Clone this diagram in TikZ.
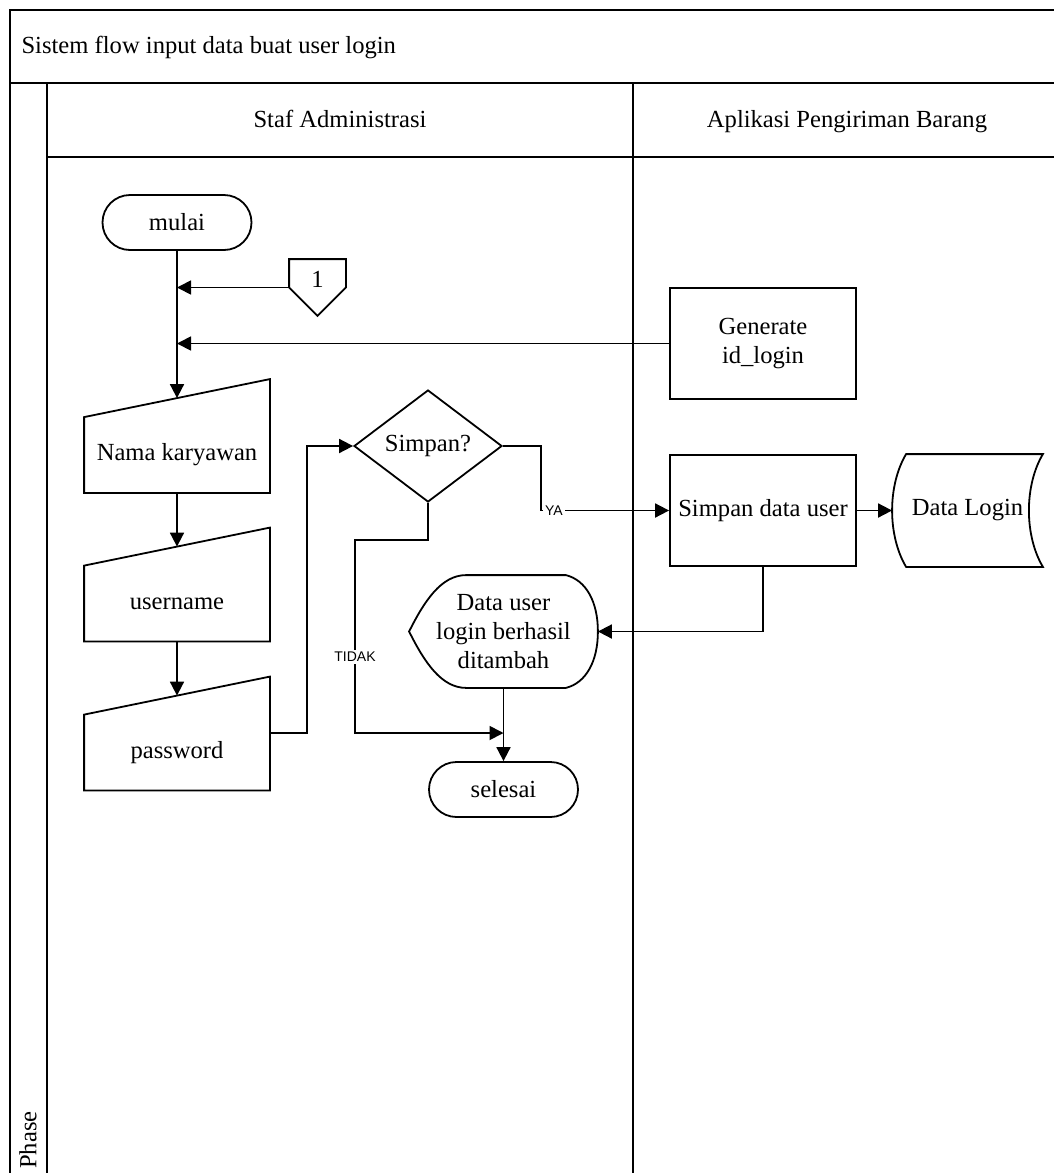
\documentclass[tikz,border=0pt]{standalone}
\usepackage{fontspec}
\setmainfont{Liberation Serif}
\newfontfamily\lblfont{Liberation Sans}
\usetikzlibrary{arrows.meta,calc,shapes.geometric,shapes.misc}

\begin{document}
\begin{tikzpicture}[x=0.5pt,y=-0.5pt,line width=0.9pt,
  font=\fontsize{12.3}{14.5}\selectfont,
  flow/.style={-{Triangle[length=7pt,width=7pt]}},
  term/.style={draw,rounded rectangle,minimum width=74.5pt,minimum height=27.5pt,inner sep=0pt},
  proc/.style={draw,minimum width=93pt,minimum height=55.5pt,align=center,inner sep=0pt},
  inbox/.style={minimum width=92pt,minimum height=37pt,inner sep=0pt},
  dec/.style={draw,diamond,minimum width=74pt,minimum height=56pt,inner sep=0pt},
  lbl/.style={font=\lblfont\fontsize{7}{8}\selectfont,fill=white,inner sep=1pt}]

\useasboundingbox (0,0) rectangle (1054,1173);
\clip (0,0) rectangle (1054,1173);

% Frame and lanes
\draw (10,10) rectangle (1080,1200);
\draw (10,83) -- (1080,83);
\draw (47,83) -- (47,1200);
\draw (47,157) -- (1080,157);
\draw (633,83) -- (633,1200);
\node[anchor=west] (title) at (14,47) {Sistem flow input data buat user login};
\node[anchor=base] (lane1) at (340,127) {Staf Administrasi};
\node[anchor=base] (lane2) at (847,127) {Aplikasi Pengiriman Barang};
\node[rotate=90] (phase) at (28,1140) {Phase};

% Start and off-page connector
\node[term] (mulai) at (177,222.5) {mulai};
\node[minimum width=27.5pt,minimum height=27.5pt,inner sep=0pt] (con) at (317.5,287.5) {};
\draw (con.north west) -- (con.north east) -- (con.east) -- (con.south) -- (con.west) -- cycle;
\node (onetxt) at (317.5,279) {1};

% Process boxes
\node[proc] (gen) at (763,343.5) {Generate\\id\_login};
\node[proc] (sdu) at (763,510.5) {Simpan data user};

% Manual inputs
\node[inbox] (nama) at (177,455) {Nama karyawan};
\node[inbox] (user) at (177,603.5) {username};
\node[inbox] (pass) at (177,752.5) {password};
\foreach \n in {nama,user,pass} {
    \draw (\n.south west) -- (\n.north west) -- ($(\n.north east)+(0,-38)$) -- (\n.south east) -- cycle;
    \coordinate (\n top) at ($(\n.north)+(0,-19)$);
}

% Decision
\node[dec] (simpan) at (428,446) {Simpan?};

% Stored data
\node[minimum width=74.5pt,minimum height=55.5pt,inner sep=0pt] (dl) at (967.5,510.5) {Data Login};
\draw ($(dl.north west)+(14,0)$) -- (dl.north east)
  .. controls +(-9,15) and +(0,-21) .. ($(dl.east)+(-14,0)$)
  .. controls +(0,21) and +(-9,-15) .. (dl.south east)
  -- ($(dl.south west)+(14,0)$)
  .. controls +(-9,-15) and +(0,21) .. (dl.west)
  .. controls +(0,-21) and +(-9,15) .. ($(dl.north west)+(14,0)$) -- cycle;

% Display
\node[minimum width=93.5pt,minimum height=55.5pt,inner sep=0pt,align=center] (disp) at (503.5,631.5) {Data user\\login berhasil\\ditambah};
\draw (disp.west) .. controls +(15,-30) and +(-25,0) .. ($(disp.north west)+(57,0)$)
  -- ($(disp.north east)+(-32,0)$)
  .. controls +(20,5) and +(0,-30) .. (disp.east)
  .. controls +(0,30) and +(20,-5) .. ($(disp.south east)+(-32,0)$)
  -- ($(disp.south west)+(57,0)$)
  .. controls +(-25,0) and +(15,30) .. (disp.west) -- cycle;

% End
\node[term] (sel) at (503.5,789.5) {selesai};
\coordinate (tjoin) at (503.5,733);

% Flow
\draw[flow] (mulai.south) -- (namatop);
\draw[flow] (con.west) -- (mulai.south |- con.west);
\draw[flow] (gen.west) -- (mulai.south |- gen.west);
\draw[flow] (nama.south) -- (usertop);
\draw[flow] (user.south) -- (passtop);
\draw[flow] ($(pass.east)+(0,-19.5)$) -- ++(37,0) |- (simpan.west);
\draw[flow] (simpan.east) -- ++(38,0) |- (sdu.west);
\draw[flow] (sdu.east) -- (dl.west);
\draw[flow] (sdu.south) |- (disp.east);
\draw[flow] (simpan.south) -- ++(0,37) -- ++(-73,0) |- (tjoin);
\draw[flow] (disp.south) -- (sel.north);

% Labels
\node[lbl] (ya) at (554,510.5) {YA};
\node[lbl] (tidak) at (355,657) {TIDAK};
\end{tikzpicture}
\end{document}
